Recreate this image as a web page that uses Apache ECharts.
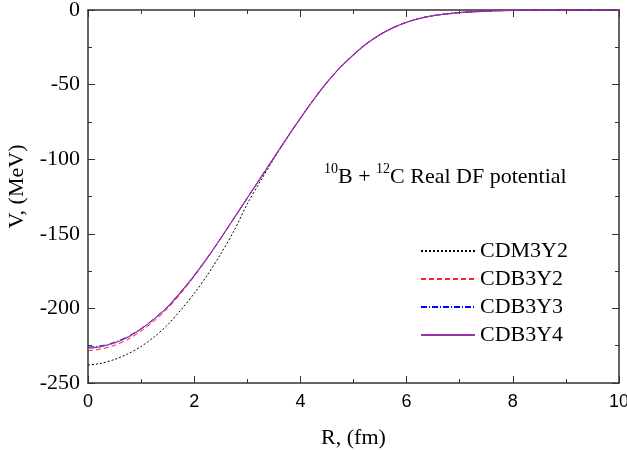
<!DOCTYPE html>
<html>
<head>
<meta charset="utf-8">
<script src="https://cdn.jsdelivr.net/npm/echarts@6/dist/echarts.min.js"></script>
<style>
  html, body { margin: 0; padding: 0; background: #fff; }
  #chart { width: 627px; height: 450px; }
</style>
</head>
<body>
<div id="chart"></div>
<script>
// R grid (fm)
const rList = [0, 0.25, 0.5, 0.75, 1, 1.25, 1.5, 1.75, 2, 2.25, 2.5, 2.75, 3, 3.25, 3.5, 3.75, 4, 4.25, 4.5, 4.75,
  5, 5.25, 5.5, 5.75, 6, 6.25, 6.5, 6.75, 7, 7.5, 8, 8.5, 9, 9.5, 10];

// potentials (MeV)
const cdm3y2 = [-238, -236.8, -234.2, -230.5, -225.5, -219, -211, -201, -190, -177.5, -163.5, -148, -130, -114.5, -99.8, -85.8, -72.7, -60, -48.5, -38.5,
  -30, -22.5, -16.5, -11.8, -8.2, -5.6, -3.8, -2.6, -1.7, -0.7, -0.25, -0.08, -0.02, 0, 0];
const cdb3y2 = [-228.3, -227.2, -224.8, -220.8, -215.2, -208.3, -200.1, -189.8, -178.6, -166.2, -153.1, -139.5, -126, -112.5, -99, -85.5, -72.5, -60, -48.5, -38.5,
  -30, -22.5, -16.5, -11.8, -8.2, -5.6, -3.8, -2.6, -1.7, -0.7, -0.25, -0.08, -0.02, 0, 0];
const cdb3y3 = [-226.0, -225.0, -222.7, -218.9, -213.5, -206.8, -198.8, -188.9, -178, -166, -153, -139.5, -126, -112.5, -99, -85.5, -72.5, -60, -48.5, -38.5,
  -30, -22.5, -16.5, -11.8, -8.2, -5.6, -3.8, -2.6, -1.7, -0.7, -0.25, -0.08, -0.02, 0, 0];
const cdb3y4 = [-226.7, -225.6, -223.2, -219.3, -213.8, -207, -199, -189, -178, -166, -153, -139.5, -126, -112.5, -99, -85.5, -72.5, -60, -48.5, -38.5,
  -30, -22.5, -16.5, -11.8, -8.2, -5.6, -3.8, -2.6, -1.7, -0.7, -0.25, -0.08, -0.02, 0, 0];

const seriesNames = ["CDM3Y2", "CDB3Y2", "CDB3Y3", "CDB3Y4"];

function pairs(vals) {
  return rList.map((r, i) => [r, vals[i]]);
}

const serif = "Liberation Serif, Times New Roman, serif";
const sans = "Liberation Sans, Arial, sans-serif";
const axisColor = "#333";

function frameAxis(extra) {
  return Object.assign({
    type: "value",
    axisLine: { onZero: false, lineStyle: { color: axisColor, width: 1.5 } },
    axisTick: { inside: true, length: 7, lineStyle: { color: axisColor } },
    minorTick: { show: true, splitNumber: 2, length: 4, lineStyle: { color: axisColor } },
    splitLine: { show: false }
  }, extra);
}

var myChart = echarts.init(document.getElementById("chart"));
let option = {
  animation: false,
  backgroundColor: "#fff",
  textStyle: { fontFamily: serif },
  grid: { left: 88, right: 8, top: 10, bottom: 67, containLabel: false, outerBoundsMode: "none" },
  legend: {
    orient: "vertical",
    left: 415,
    top: 235,
    itemWidth: 54,
    itemHeight: 14,
    itemGap: 6,
    itemStyle: { opacity: 0 },
    textStyle: { fontFamily: serif, fontSize: 22, color: "#000", lineHeight: 22 },
    data: seriesNames
  },
  xAxis: [
    frameAxis({
      min: 0,
      max: 10,
      interval: 2,
      name: "R, (fm)",
      nameLocation: "middle",
      nameGap: 44,
      nameTextStyle: { fontFamily: serif, fontSize: 22, color: "#000" },
      axisLabel: { fontFamily: sans, fontSize: 18, color: "#000", margin: 10 }
    }),
    frameAxis({
      position: "top",
      min: 0,
      max: 10,
      interval: 2,
      axisLabel: { show: false }
    })
  ],
  yAxis: [
    frameAxis({
      min: -250,
      max: 0,
      interval: 50,
      name: "V, (MeV)",
      nameLocation: "middle",
      nameGap: 60,
      nameTextStyle: { fontFamily: serif, fontSize: 22, color: "#000", padding: [0, 0, 0, 20] },
      axisLabel: { fontFamily: serif, fontSize: 22, color: "#000", margin: 8 }
    }),
    frameAxis({
      position: "right",
      min: -250,
      max: 0,
      interval: 50,
      axisLabel: { show: false }
    })
  ],
  graphic: [
    {
      type: "text",
      left: 324,
      top: 160,
      style: {
        fontFamily: serif,
        text: "{sup|10}{n|B + }{sup|12}{n|C Real DF potential}",
        rich: {
          sup: { fontFamily: serif, fontSize: 14, color: "#000", verticalAlign: "top", lineHeight: 26 },
          n: { fontFamily: serif, fontSize: 22, color: "#000", verticalAlign: "bottom", lineHeight: 26, padding: [6, 0, 0, 0] }
        }
      }
    }
  ],
  series: [
    {
      name: "CDM3Y2",
      type: "line",
      data: pairs(cdm3y2),
      symbol: "none",
      smooth: 0.3,
      color: "#000",
      lineStyle: { color: "#000", width: 1, type: [2, 2] },
      z: 2
    },
    {
      name: "CDB3Y2",
      type: "line",
      data: pairs(cdb3y2),
      symbol: "none",
      smooth: 0.3,
      color: "#ff2020",
      lineStyle: { color: "#ff2020", width: 1, type: [5, 3] },
      z: 3
    },
    {
      name: "CDB3Y3",
      type: "line",
      data: pairs(cdb3y3),
      symbol: "none",
      smooth: 0.3,
      color: "#0000ff",
      lineStyle: { color: "#0000ff", width: 1, type: [6, 2, 1, 2] },
      z: 4
    },
    {
      name: "CDB3Y4",
      type: "line",
      data: pairs(cdb3y4),
      symbol: "none",
      smooth: 0.3,
      color: "#9a2fa8",
      lineStyle: { color: "#9a2fa8", width: 1.2 },
      z: 5
    }
  ]
};
myChart.setOption(option);
</script>
</body>
</html>
